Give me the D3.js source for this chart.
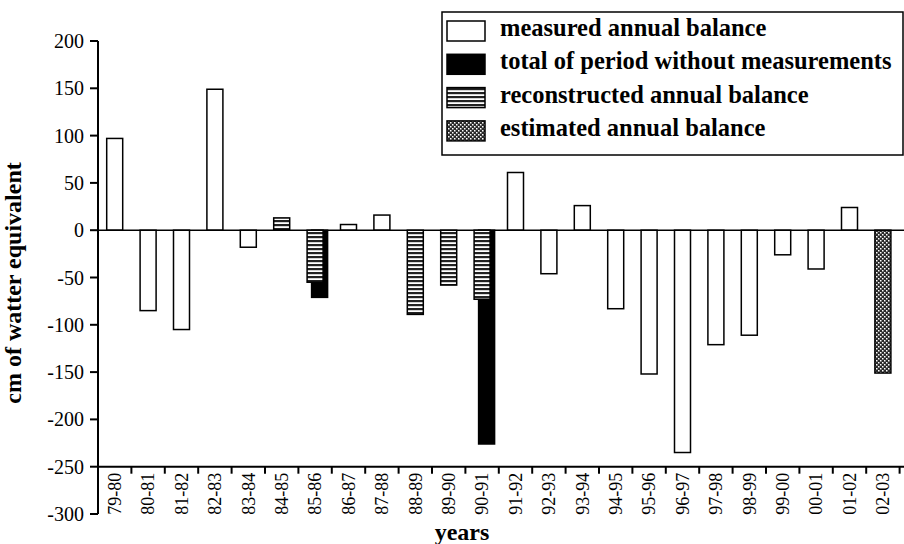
<!DOCTYPE html>
<html>
<head>
<meta charset="utf-8">
<title>Annual balance</title>
<script src="https://cdn.jsdelivr.net/npm/d3@7"></script>
<style>
	body { margin: 0; background: white; }
	svg { display: block; font-family: "Liberation Serif", "Times New Roman", serif; }
	.ytick_label { font-size: 20px; fill: black; }
	.xtick_label { font-size: 18px; fill: black; }
	.axis_title { font-size: 24px; font-weight: bold; fill: black; }
	.legend_text { font-size: 24.5px; font-weight: bold; fill: black; }
	.bar { stroke: black; stroke-width: 1.5px; }
</style>
</head>
<body>
<svg id="chart"></svg>
<script>

	// balance years
	var years = [ "79-80", "80-81", "81-82", "82-83", "83-84", "84-85", "85-86", "86-87",
		"87-88", "88-89", "89-90", "90-91", "91-92", "92-93", "93-94", "94-95",
		"95-96", "96-97", "97-98", "98-99", "99-00", "00-01", "01-02", "02-03" ]

	// cm of water equivalent, null = no bar of that kind
	var measured = [ 97, -85, -105, 149, -18, null, null, 6,
		16, null, null, null, 61, -46, 26, -83,
		-152, -235, -121, -111, -26, -41, 24, null ]
	var reconstructed = [ null, null, null, null, null, 13, -55, null,
		null, -89, -58, -73, null, null, null, null,
		null, null, null, null, null, null, null, null ]
	var periodTotal = [ null, null, null, null, null, null, -71, null,
		null, null, null, -226, null, null, null, null,
		null, null, null, null, null, null, null, null ]
	var estimated = [ null, null, null, null, null, null, null, null,
		null, null, null, null, null, null, null, null,
		null, null, null, null, null, null, null, -151 ]

	var yTicks = [ 200, 150, 100, 50, 0, -50, -100, -150, -200, -250, -300 ]

	var legendItems = [
		{ label: "measured annual balance", fill: "white" },
		{ label: "total of period without measurements", fill: "black" },
		{ label: "reconstructed annual balance", fill: "url(#hstripe)" },
		{ label: "estimated annual balance", fill: "url(#xhatch)" }
	]

	var width = 904, height = 544,
		axisX = 98,
		barW = 16,
		totalShift = 4.5;

	var svg = d3.select( "#chart" )
		.attr( "width", width )
		.attr( "height", height )

	var defs = svg.append( "defs" )
	var hs = defs.append( "pattern" )
		.attr( "id", "hstripe" )
		.attr( "width", 4 ).attr( "height", 4 )
		.attr( "patternUnits", "userSpaceOnUse" )
	hs.append( "rect" ).attr( "width", 4 ).attr( "height", 4 ).attr( "fill", "white" )
	hs.append( "rect" ).attr( "width", 4 ).attr( "height", 2.2 ).attr( "fill", "#222" )

	var xh = defs.append( "pattern" )
		.attr( "id", "xhatch" )
		.attr( "width", 4 ).attr( "height", 4 )
		.attr( "patternUnits", "userSpaceOnUse" )
	xh.append( "rect" ).attr( "width", 4 ).attr( "height", 4 ).attr( "fill", "#2a2a2a" )
	xh.append( "rect" ).attr( "x", 0 ).attr( "y", 0 ).attr( "width", 1.5 ).attr( "height", 1.5 ).attr( "fill", "white" )
	xh.append( "rect" ).attr( "x", 2 ).attr( "y", 2 ).attr( "width", 1.5 ).attr( "height", 1.5 ).attr( "fill", "white" )

	var x = d3.scaleBand()
		.domain( years )
		.range( [ axisX, 899.6 ] )
		.paddingInner( 0 )
		.paddingOuter( 0 )

	var y = d3.scaleLinear()
		.domain( [ -300, 200 ] )
		.range( [ 514, 41 ] )

	var cx = d => x( d ) + x.bandwidth() / 2

	// bars: one helper per series
	function drawBars( values, fill, shift, cls ) {
		var rows = years.map( ( yr, i ) => ( { yr: yr, v: values[i] } ) ).filter( d => d.v != null )
		svg.append( "g" )
			.selectAll( "rect" )
			.data( rows ).enter().append( "rect" )
				.classed( "bar", true )
				.classed( cls, true )
				.attr( "x", d => cx( d.yr ) - barW / 2 + shift )
				.attr( "y", d => Math.min( y( d.v ), y( 0 ) ) )
				.attr( "width", barW )
				.attr( "height", d => Math.abs( y( d.v ) - y( 0 ) ) )
				.attr( "fill", fill )
	}

	drawBars( periodTotal, "black", totalShift, "total" )
	drawBars( reconstructed, "url(#hstripe)", 0, "reconstructed" )
	drawBars( measured, "white", 0, "measured" )
	drawBars( estimated, "url(#xhatch)", 0, "estimated" )

	// zero line
	svg.append( "line" )
		.attr( "x1", axisX ).attr( "x2", width )
		.attr( "y1", y( 0 ) ).attr( "y2", y( 0 ) )
		.attr( "stroke", "black" ).attr( "stroke-width", 1.6 )

	// y axis
	var yAxis = svg.append( "g" )
	yAxis.append( "line" )
		.attr( "x1", axisX ).attr( "x2", axisX )
		.attr( "y1", y( 200 ) ).attr( "y2", y( -300 ) )
		.attr( "stroke", "black" ).attr( "stroke-width", 2 )
	yAxis.selectAll( "line.ytick" )
		.data( yTicks ).enter().append( "line" )
			.attr( "class", "ytick" )
			.attr( "x1", axisX - 8 ).attr( "x2", axisX )
			.attr( "y1", d => y( d ) ).attr( "y2", d => y( d ) )
			.attr( "stroke", "black" ).attr( "stroke-width", 2 )
	yAxis.selectAll( "text" )
		.data( yTicks ).enter().append( "text" )
			.classed( "ytick_label", true )
			.attr( "x", axisX - 14 )
			.attr( "y", d => y( d ) )
			.attr( "dy", "0.35em" )
			.attr( "text-anchor", "end" )
			.text( d => d )

	// x axis at -250
	var xAxisY = y( -250 )
	var xAxis = svg.append( "g" )
	xAxis.append( "line" )
		.attr( "x1", axisX ).attr( "x2", width )
		.attr( "y1", xAxisY ).attr( "y2", xAxisY )
		.attr( "stroke", "black" ).attr( "stroke-width", 2 )
	xAxis.selectAll( "line.xtick" )
		.data( years ).enter().append( "line" )
			.attr( "class", "xtick" )
			.attr( "x1", d => x( d ) + x.step() ).attr( "x2", d => x( d ) + x.step() )
			.attr( "y1", xAxisY ).attr( "y2", xAxisY + 7 )
			.attr( "stroke", "black" ).attr( "stroke-width", 2 )
	xAxis.selectAll( "text" )
		.data( years ).enter().append( "text" )
			.classed( "xtick_label", true )
			.attr( "transform", d => "translate(" + cx( d ) + "," + ( xAxisY + 6 ) + ") rotate(-90)" )
			.attr( "dy", "0.35em" )
			.attr( "text-anchor", "end" )
			.text( d => d )

	// axis titles
	svg.append( "text" )
		.classed( "axis_title", true )
		.attr( "transform", "translate(21,283) rotate(-90)" )
		.attr( "text-anchor", "middle" )
		.text( "cm of watter equivalent" )

	svg.append( "text" )
		.classed( "axis_title", true )
		.attr( "x", 462 )
		.attr( "y", 540 )
		.attr( "text-anchor", "middle" )
		.text( "years" )

	// legend
	var legend = svg.append( "g" )
	legend.append( "rect" )
		.attr( "x", 442 ).attr( "y", 12 )
		.attr( "width", 461 ).attr( "height", 143 )
		.attr( "fill", "white" )
		.attr( "stroke", "black" ).attr( "stroke-width", 1.5 )

	var rowY = d3.scaleLinear().domain( [ 0, 1 ] ).range( [ 21, 54.3 ] )

	var li = legend.selectAll( "g.item" )
		.data( legendItems ).enter().append( "g" )
			.attr( "class", "item" )
	li.append( "rect" )
		.attr( "x", 447 )
		.attr( "y", ( d, i ) => rowY( i ) )
		.attr( "width", 38 ).attr( "height", 20 )
		.attr( "fill", d => d.fill )
		.attr( "stroke", "black" ).attr( "stroke-width", 1.5 )
	li.append( "text" )
		.classed( "legend_text", true )
		.attr( "x", 500 )
		.attr( "y", ( d, i ) => rowY( i ) + 15 )
		.text( d => d.label )

</script>
</body>
</html>
